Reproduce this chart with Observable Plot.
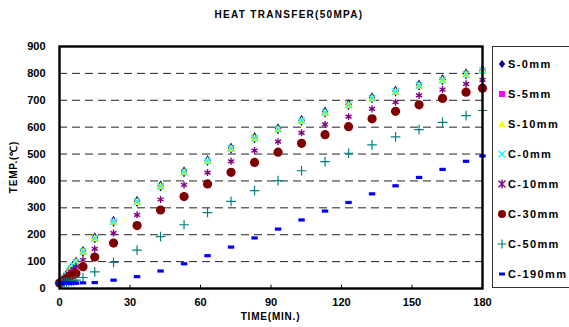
<!DOCTYPE html>
<html>
<head>
<meta charset="utf-8">
<script src="https://cdn.jsdelivr.net/npm/d3@7"></script>
<script src="https://cdn.jsdelivr.net/npm/@observablehq/plot@0.6"></script>
<style>
  html, body { margin: 0; padding: 0; background: #fff; }
  #wrap { position: relative; width: 569px; height: 327px; overflow: hidden; font-family: "Liberation Sans", Arial, sans-serif; font-weight: bold; }
  #wrap > svg { position: absolute; left: 0; top: 0; }
  .lbl { position: absolute; color: #000; white-space: nowrap; }
  #title { left: 0; width: 578px; top: 9px; text-align: center; font-size: 10px; letter-spacing: 1.3px; }
  #xlab { left: 0; width: 541px; top: 311px; text-align: center; font-size: 10px; letter-spacing: 0.8px; }
  #ylab { left: 13px; top: 167px; font-size: 10px; letter-spacing: 0.8px; transform: translate(-50%, -50%) rotate(-90deg); }
  #legend { position: absolute; left: 492px; top: 46px; width: 90px; height: 240px; border: 1px solid #333; background: #fff; }
  .item { position: absolute; left: 4px; height: 14px; display: flex; align-items: center; font-size: 11px; letter-spacing: 1.4px; }
  .item svg { display: block; margin-right: 1px; }
</style>
</head>
<body>
<div id="wrap">
  <div id="title" class="lbl">HEAT TRANSFER(50MPA)</div>
  <div id="xlab" class="lbl">TIME(MIN.)</div>
  <div id="ylab" class="lbl">TEMP.(℃)</div>
  <div id="legend"></div>
</div>
<script>
const times = [0, 1, 2, 3, 4, 5, 6, 7, 10, 15, 23, 33, 43, 53, 63, 73, 83, 93, 103, 113, 123, 133, 143, 153, 163, 173, 180];

const S0   = [20, 28, 40, 52, 64, 75, 86, 98, 138, 188, 250, 324, 382, 434, 476, 522, 561, 594, 625, 656, 684, 709, 734, 756, 777, 798, 811];
const S5   = [20, 28, 39, 51, 63, 74, 85, 97, 136, 186, 248, 322, 380, 432, 474, 520, 559, 592, 623, 654, 682, 707, 732, 754, 775, 796, 809];
const S10  = [20, 27, 39, 50, 62, 73, 84, 96, 135, 184, 246, 320, 378, 430, 472, 518, 557, 590, 621, 652, 680, 705, 730, 752, 773, 794, 807];
const C0   = [20, 28, 40, 51, 63, 74, 85, 97, 137, 187, 249, 323, 381, 433, 475, 521, 560, 593, 624, 655, 683, 708, 733, 755, 776, 797, 810];
const C10  = [20, 26, 36, 46, 55, 64, 72, 81, 106, 147, 206, 274, 331, 385, 431, 473, 513, 546, 579, 610, 639, 668, 693, 718, 740, 761, 776];
const C30  = [20, 24, 30, 36, 42, 48, 52, 56, 81, 117, 169, 234, 292, 342, 389, 432, 469, 507, 540, 572, 602, 631, 659, 683, 707, 730, 745];
const C50  = [20, 21, 22, 23, 24, 26, 28, 31, 41, 62, 97, 143, 193, 237, 282, 324, 364, 401, 438, 472, 503, 534, 564, 591, 618, 643, 662];
const C190 = [20, 20, 20, 20, 20, 20, 20, 20, 21, 22, 31, 44, 65, 92, 122, 154, 188, 221, 255, 288, 320, 352, 382, 413, 443, 473, 493];

const seriesNames = ["S-0mm", "S-5mm", "S-10mm", "C-0mm", "C-10mm", "C-30mm", "C-50mm", "C-190mm"];
const seriesValues = [S0, S5, S10, C0, C10, C30, C50, C190];
const seriesColors = ["#000080", "#ff00ff", "#ffff00", "#00ffff", "#800080", "#800000", "#008080", "#0000ff"];

const yTicks = [0, 100, 200, 300, 400, 500, 600, 700, 800, 900];
const gridTicks = [100, 200, 300, 400, 500, 600, 700, 800];
const xTicks = [0, 30, 60, 90, 120, 150, 180];

const rows = (vals) => times.map((t, i) => ({t, v: vals[i]}));

const dashSymbol = { draw(ctx, size) { const w = 3.2, h = 1.6; ctx.moveTo(-w, -h); ctx.lineTo(w, -h); ctx.lineTo(w, h); ctx.lineTo(-w, h); ctx.closePath(); } };

const dotOpts = [
  {symbol: "diamond", fill: seriesColors[0], r: 3.4},
  {symbol: "square", fill: seriesColors[1], r: 2.9},
  {symbol: "triangle", fill: seriesColors[2], r: 3.2},
  {symbol: "times", stroke: seriesColors[3], r: 3.0, strokeWidth: 1.3},
  {symbol: "asterisk", stroke: seriesColors[4], r: 3.3, strokeWidth: 1.4},
  {symbol: "circle", fill: seriesColors[5], r: 4.6},
  {symbol: "plus", stroke: seriesColors[6], r: 3.2, strokeWidth: 1.2},
  {symbol: dashSymbol, fill: seriesColors[7], r: 3}
];

const chart = Plot.plot({
  width: 569,
  height: 327,
  marginLeft: 59,
  marginRight: 87,
  marginTop: 46,
  marginBottom: 39,
  style: {fontFamily: "'Liberation Sans', Arial, sans-serif", fontWeight: "bold", fontSize: "11px", color: "#000", background: "transparent"},
  x: {domain: [0, 180], ticks: xTicks, label: null},
  y: {domain: [0, 900], ticks: yTicks, label: null},
  marks: [
    Plot.ruleY(gridTicks, {stroke: "#222", strokeWidth: 1, strokeDasharray: "8,5"}),
    Plot.axisY(yTicks, {tickSize: 0, tickPadding: 14, fontSize: 11, fontWeight: "bold", label: null}),
    Plot.axisX(xTicks, {tickSize: 0, tickPadding: 10, fontSize: 11, fontWeight: "bold", label: null}),
    Plot.ruleX(xTicks.slice(1, -1), {y1: 0, y2: 12, stroke: "#000", strokeWidth: 1}),
    ...seriesValues.map((vals, i) => Plot.dot(rows(vals), {x: "t", y: "v", ...dotOpts[i]})),
    Plot.frame({stroke: "#000", strokeWidth: 2.4})
  ]
});
document.getElementById("wrap").prepend(chart);

// legend
const legend = document.getElementById("legend");
const legendSvgs = [
  `<svg width="10" height="10" viewBox="-5 -5 10 10"><path d="M0,-4L3.2,0L0,4L-3.2,0Z" fill="#000080"/></svg>`,
  `<svg width="10" height="10" viewBox="-5 -5 10 10"><rect x="-3" y="-3" width="6" height="6" fill="#ff00ff"/></svg>`,
  `<svg width="10" height="10" viewBox="-5 -5 10 10"><path d="M0,-4L3.8,3.2L-3.8,3.2Z" fill="#ffff00"/></svg>`,
  `<svg width="10" height="10" viewBox="-5 -5 10 10"><path d="M-3.5,-3.5L3.5,3.5M3.5,-3.5L-3.5,3.5" stroke="#00ffff" stroke-width="1.3"/></svg>`,
  `<svg width="10" height="10" viewBox="-5 -5 10 10"><path d="M-3.5,-3.5L3.5,3.5M3.5,-3.5L-3.5,3.5M0,-4.5L0,4.5" stroke="#800080" stroke-width="1.4"/></svg>`,
  `<svg width="10" height="10" viewBox="-5 -5 10 10"><circle r="4" fill="#800000"/></svg>`,
  `<svg width="10" height="10" viewBox="-5 -5 10 10"><path d="M-4.5,0L4.5,0M0,-4.5L0,4.5" stroke="#008080" stroke-width="1.2"/></svg>`,
  `<svg width="10" height="10" viewBox="-5 -5 10 10"><rect x="-3" y="-1.5" width="6" height="3" fill="#0000ff"/></svg>`
];
seriesNames.forEach((name, i) => {
  const d = document.createElement("div");
  d.className = "item";
  d.style.top = (10 + i * 30) + "px";
  d.innerHTML = legendSvgs[i] + `<span>${name}</span>`;
  legend.appendChild(d);
});
</script>
</body>
</html>
